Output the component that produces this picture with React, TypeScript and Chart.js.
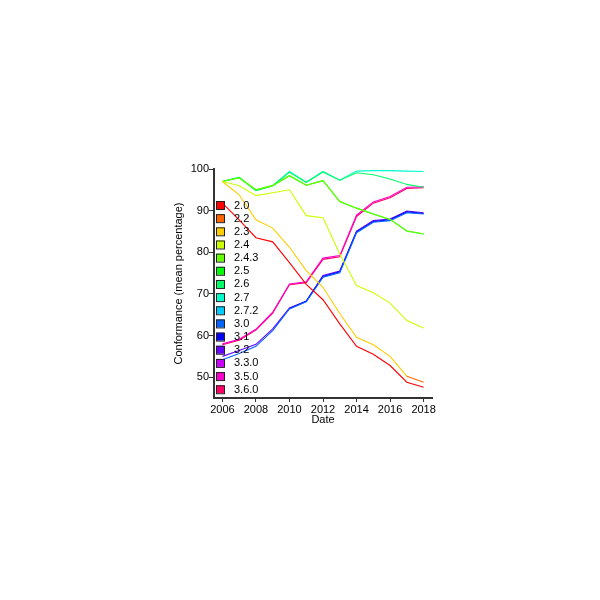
import { useEffect, useRef } from "react";
import { Chart, registerables } from "chart.js";

Chart.register(...registerables);

const YEARS = [2006, 2007, 2008, 2009, 2010, 2011, 2012, 2013, 2014, 2015, 2016, 2017, 2018];
const X_TICKS = [2006, 2008, 2010, 2012, 2014, 2016, 2018];
const Y_TICKS = [50, 60, 70, 80, 90, 100];

const SERIES_NAMES = ["2.0", "2.2", "2.3", "2.4", "2.4.3", "2.5", "2.6", "2.7", "2.7.2", "3.0", "3.1", "3.2", "3.3.0", "3.5.0", "3.6.0"];
const SERIES_COLORS = ["#ff0000", "#ff6600", "#ffcc00", "#ccff00", "#66ff00", "#00ff00", "#00ff66", "#00ffcc", "#00ccff", "#0066ff", "#0000ff", "#6600ff", "#cc00ff", "#ff00cc", "#ff0066"];

const N = null;
const V_2_0 = [91.8, 87.8, 83.5, 82.5, 77.5, 72.3, 68.6, 62.8, 57.4, 55.5, 52.8, 48.8, 47.6];
const V_2_2 = [N, N, N, N, N, N, N, N, N, N, N, 50.2, 48.8];
const V_2_3 = [97.0, 93.8, 87.8, 85.8, 81.2, 75.6, 71.6, 65.3, 59.6, 57.8, 55.0, 50.2, N];
const V_2_4 = [97.0, 96.0, 93.6, 94.3, 95.0, 88.8, 88.3, 79.6, 72.0, 70.3, 67.8, 63.6, 61.8];
const V_2_4_3 = [97.0, 97.9, 95.0, 96.0, 98.4, 96.1, 97.2, 92.2, 90.6, 89.2, 87.9, 85.1, 84.4];
const V_2_5 = [97.0, 97.9, 95.0, 96.0, 98.4, 96.1, 97.2, 92.2, 90.6, 89.2, 87.9, 85.1, 84.4];
const V_2_6 = [97.0, 98.0, 94.8, 96.0, 99.2, 96.8, 99.3, 97.3, 99.1, 98.6, 97.6, 96.3, 95.6];
const V_2_7 = [97.0, 98.0, 94.8, 96.0, 99.4, 96.8, 99.4, 97.3, 99.5, 99.6, 99.6, 99.5, 99.4];
const V_2_7_2 = [N, N, N, N, N, N, N, N, N, N, N, N, N];
const V_3_0 = [54.2, 55.7, 57.4, 61.2, 66.4, 68.1, 74.0, 75.1, 84.7, 87.2, 87.6, 89.5, 89.2];
const V_3_1 = [N, N, N, N, 66.5, 68.2, 74.2, 75.3, 84.9, 87.4, 87.8, 89.7, 89.3];
const V_3_2 = [55.0, 56.4, 57.9, 61.6, 66.6, 68.3, 74.4, 75.5, 85.1, 87.6, 88.0, 89.9, 89.5];
const V_3_3_0 = [N, N, N, N, N, N, N, N, N, N, N, N, N];
const V_3_5_0 = [58.0, 59.1, 61.5, 65.6, 72.4, 72.9, 78.6, 79.2, 88.9, 92.1, 93.4, 95.6, 95.7];
const V_3_6_0 = [57.8, 58.9, 61.3, 65.4, 72.2, 72.7, 78.3, 78.9, 88.6, 91.8, 93.1, 95.3, 95.5];

const SERIES_VALUES = [V_2_0, V_2_2, V_2_3, V_2_4, V_2_4_3, V_2_5, V_2_6, V_2_7, V_2_7_2, V_3_0, V_3_1, V_3_2, V_3_3_0, V_3_5_0, V_3_6_0];

const FONT = "'Liberation Sans', Arial, sans-serif";

const legendPlugin = {
  id: "insideLegend",
  afterDatasetsDraw(chart: any) {
    const { ctx, chartArea } = chart;
    const x0 = chartArea.left + 2;
    const y0 = chartArea.top + 36;
    const step = 13.16;
    ctx.save();
    ctx.font = `11px ${FONT}`;
    ctx.textBaseline = "middle";
    ctx.textAlign = "left";
    chart.data.datasets.forEach((ds: any, i: number) => {
      const cy = y0 + i * step;
      ctx.fillStyle = ds.borderColor;
      ctx.fillRect(x0, cy - 4, 8, 8);
      ctx.lineWidth = 1;
      ctx.strokeStyle = "#222";
      ctx.strokeRect(x0 + 0.5, cy - 3.5, 8, 8);
      ctx.fillStyle = "#000";
      ctx.fillText(ds.label, x0 + 18, cy + 0.5);
    });
    ctx.restore();
  },
};

export default function App() {
  const ref = useRef<HTMLCanvasElement>(null);
  useEffect(() => {
    if (!ref.current) return;
    const datasets = SERIES_NAMES.map((name, i) => ({
      label: name,
      data: YEARS.map((x, j) => ({ x, y: SERIES_VALUES[i][j] })),
      borderColor: SERIES_COLORS[i],
      backgroundColor: SERIES_COLORS[i],
      borderWidth: 1.1,
      pointRadius: 0,
      tension: 0,
      spanGaps: false,
    }));
    const chart = new Chart(ref.current, {
      type: "line",
      data: { datasets },
      plugins: [legendPlugin],
      options: {
        animation: false,
        responsive: false,
        layout: { padding: { left: 172, right: 168, top: 169, bottom: 173 } },
        plugins: { legend: { display: false }, tooltip: { enabled: false } },
        scales: {
          x: {
            type: "linear",
            min: 2005.5,
            max: 2018.5,
            afterBuildTicks: (s: any) => { s.ticks = X_TICKS.map((v) => ({ value: v })); },
            afterFit: (s: any) => { s.height = 29; },
            grid: { drawOnChartArea: false, drawTicks: true, tickLength: 4, color: "#333", lineWidth: 1 },
            border: { display: true, color: "#333", width: 2 },
            ticks: { color: "#000", padding: 1, font: { family: FONT, size: 11 }, callback: (v: any) => String(v), maxRotation: 0 },
            title: { display: true, text: "Date", color: "#000", padding: 0, font: { family: FONT, size: 11 } },
          },
          y: {
            type: "linear",
            min: 45,
            max: 100,
            afterBuildTicks: (s: any) => { s.ticks = Y_TICKS.map((v) => ({ value: v })); },
            afterFit: (s: any) => { s.width = 42; },
            grid: { drawOnChartArea: false, drawTicks: true, tickLength: 5, color: "#333", lineWidth: 1 },
            border: { display: true, color: "#333", width: 2 },
            ticks: { color: "#000", padding: 0, font: { family: FONT, size: 11 } },
            title: { display: true, text: "Conformance (mean percentage)", color: "#000", padding: 0, font: { family: FONT, size: 11 } },
          },
        },
      },
    });
    return () => chart.destroy();
  }, []);
  return (
    <div style={{ position: "absolute", left: 0, top: 0, width: 600, height: 600 }}>
      <canvas ref={ref} width={600} height={600} />
    </div>
  );
}
